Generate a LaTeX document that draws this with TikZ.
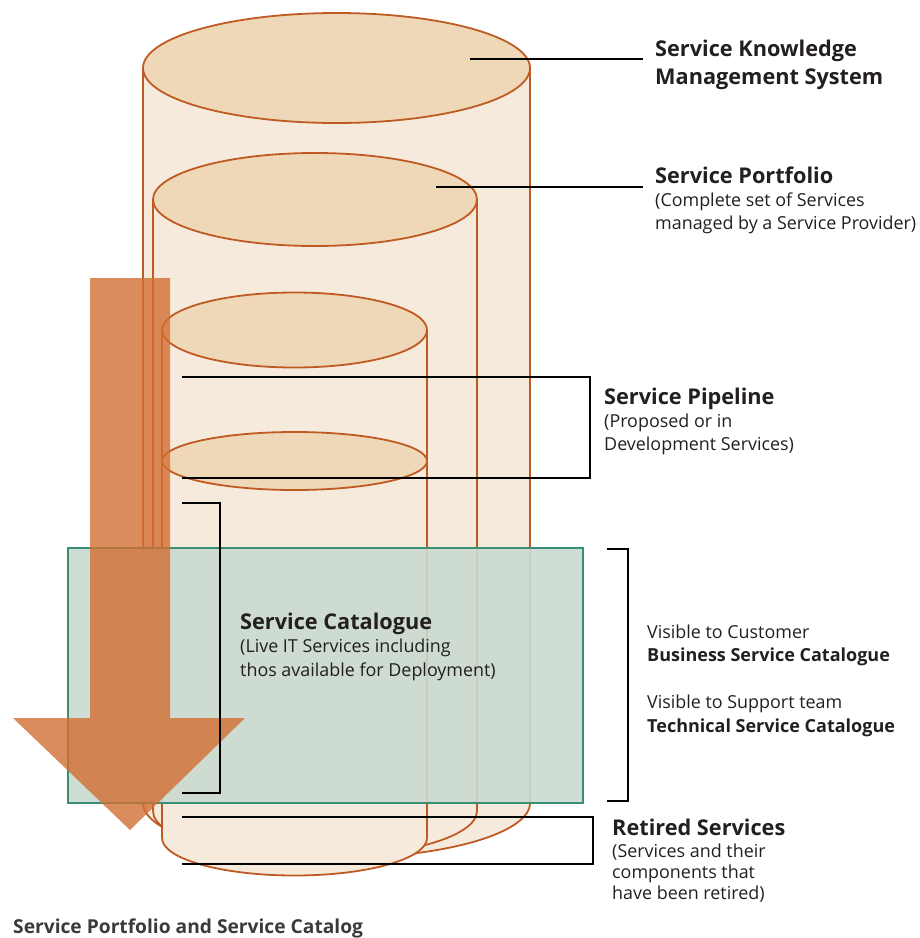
\documentclass[tikz,border=0pt]{standalone}
\usepackage{fontspec}
\setmainfont{Open Sans}
\definecolor{cylline}{HTML}{BF5A22}
\definecolor{cylbody}{HTML}{F6EADD}
\definecolor{cyltop}{HTML}{EFD8B7}
\definecolor{catfill}{HTML}{CADAD0}
\definecolor{catline}{HTML}{3A8E74}
\definecolor{arrowfill}{HTML}{D26F33}
\definecolor{txt}{HTML}{231F20}
\definecolor{captxt}{HTML}{3A3A3C}
% cylinder: centre x, x radius, top centre y, bottom centre y, y radius (y measured downwards)
\newcommand\drawcyl[5]{%
  \fill[cylbody] (#1-#2,-#3) -- (#1-#2,-#4)
     arc[start angle=180,end angle=360,x radius=#2,y radius=#5] -- (#1+#2,-#3) -- cycle;
  \draw[cylstroke] (#1-#2,-#3) -- (#1-#2,-#4)
     arc[start angle=180,end angle=360,x radius=#2,y radius=#5] -- (#1+#2,-#3);
  \draw[cylstroke,fill=cyltop] (#1,-#3) ellipse[x radius=#2,y radius=#5];
}
\begin{document}
\begin{tikzpicture}[x=1pt,y=1pt,
  cylstroke/.style={draw=cylline,line width=1.8pt},
  leader/.style={draw=black,line width=1.6pt},
  head/.style={anchor=base west,inner sep=0pt,text=txt,font=\fontsize{21.7}{25}\selectfont\bfseries},
  sub/.style={anchor=base west,inner sep=0pt,text=txt,font=\fontsize{17.9}{21}\selectfont},
  subbold/.style={anchor=base west,inner sep=0pt,text=txt,font=\fontsize{18}{21}\selectfont\bfseries}]
\useasboundingbox (0,0) rectangle (920,-938);

% nested cylinders, outermost first
\drawcyl{336.5}{193.5}{68}{803}{55}
\drawcyl{315}{162}{199.5}{811}{46.5}
\drawcyl{294.5}{132.5}{330}{838}{37.5}
% lower disc of the pipeline cylinder
\draw[cylstroke,fill=cyltop] (294.5,-461) ellipse[x radius=132.5,y radius=29];

% service catalogue band
\draw[fill=catfill,fill opacity=0.9,draw=catline,line width=1.8pt] (68,-548) rectangle (583,-803);

% lifecycle arrow
\fill[arrowfill,opacity=0.8] (90,-278) -- (170,-278) -- (170,-718) -- (245,-718)
   -- (130,-830) -- (13,-718) -- (90,-718) -- cycle;

% leader lines
\coordinate (skA) at (470,-59);  \coordinate (skB) at (643,-59);
\coordinate (spA) at (436,-187); \coordinate (spB) at (643,-187);
\draw[leader] (skA) -- (skB);
\draw[leader] (spA) -- (spB);
\coordinate (piA) at (182,-377); \coordinate (piB) at (590,-377);
\coordinate (piC) at (590,-478); \coordinate (piD) at (182,-478);
\draw[leader] (piA) -- (piB) -- (piC) -- (piD);
\coordinate (caA) at (182,-503); \coordinate (caB) at (220,-503);
\coordinate (caC) at (220,-793); \coordinate (caD) at (182,-793);
\draw[leader] (caA) -- (caB) -- (caC) -- (caD);
\coordinate (viA) at (607,-549); \coordinate (viB) at (628,-549);
\coordinate (viC) at (628,-801); \coordinate (viD) at (607,-801);
\draw[leader] (viA) -- (viB) -- (viC) -- (viD);
\coordinate (reA) at (182,-817); \coordinate (reB) at (593,-817);
\coordinate (reC) at (593,-864); \coordinate (reD) at (182,-864);
\draw[leader] (reA) -- (reB) -- (reC) -- (reD);

% labels
\node[head] (sk1) at (655,-56) {Service Knowledge};
\node[head] (sk2) at (655,-84) {Management System};
\node[head] (sp1) at (655,-183) {Service Portfolio};
\node[sub]  (sp2) at (655,-206) {(Complete set of Services};
\node[sub]  (sp3) at (655,-229) {managed by a Service Provider)};
\node[head] (pi1) at (604,-404) {Service Pipeline};
\node[sub]  (pi2) at (604,-427) {(Proposed or in};
\node[sub]  (pi3) at (604,-450) {Development Services)};
\node[head] (ca1) at (240,-629) {Service Catalogue};
\node[sub]  (ca2) at (240,-652) {(Live IT Services including};
\node[sub]  (ca3) at (240,-676) {thos available for Deployment)};
\node[sub]     (vi1) at (647,-638) {Visible to Customer};
\node[subbold] (vi2) at (647,-661) {Business Service Catalogue};
\node[sub]     (vi3) at (647,-708) {Visible to Support team};
\node[subbold] (vi4) at (647,-732) {Technical Service Catalogue};
\node[head] (re1) at (612,-835) {Retired Services};
\node[sub]  (re2) at (612,-857) {(Services and their};
\node[sub]  (re3) at (612,-878) {components that};
\node[sub]  (re4) at (612,-899) {have been retired)};
\node[anchor=base west,inner sep=0pt,text=captxt,font=\fontsize{19.2}{22}\selectfont\bfseries]
  (cap) at (13,-933) {Service Portfolio and Service Catalog};
\end{tikzpicture}
\end{document}
